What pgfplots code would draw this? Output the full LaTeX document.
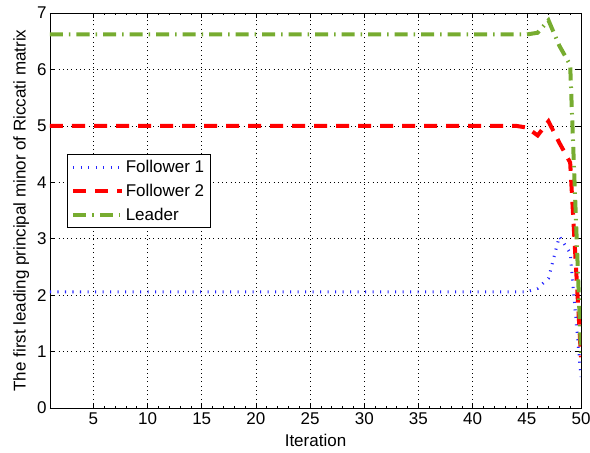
\documentclass[border=0pt]{standalone}
\usepackage{pgfplots}
\pgfplotsset{compat=1.18}
\usepackage{pgfplotstable}
\usepackage{fontspec}
\setmainfont{Liberation Sans}

\definecolor{mlgreen}{rgb}{0.466,0.674,0.188}

% iteration, follower 1, follower 2, leader
\pgfplotstableread{
x  fa    fb    ld
1  2.06  5.00  6.62
2  2.06  5.00  6.62
3  2.06  5.00  6.62
4  2.06  5.00  6.62
5  2.06  5.00  6.62
6  2.06  5.00  6.62
7  2.06  5.00  6.62
8  2.06  5.00  6.62
9  2.06  5.00  6.62
10 2.06  5.00  6.62
11 2.06  5.00  6.62
12 2.06  5.00  6.62
13 2.06  5.00  6.62
14 2.06  5.00  6.62
15 2.06  5.00  6.62
16 2.06  5.00  6.62
17 2.06  5.00  6.62
18 2.06  5.00  6.62
19 2.06  5.00  6.62
20 2.06  5.00  6.62
21 2.06  5.00  6.62
22 2.06  5.00  6.62
23 2.06  5.00  6.62
24 2.06  5.00  6.62
25 2.06  5.00  6.62
26 2.06  5.00  6.62
27 2.06  5.00  6.62
28 2.06  5.00  6.62
29 2.06  5.00  6.62
30 2.06  5.00  6.62
31 2.06  5.00  6.62
32 2.06  5.00  6.62
33 2.06  5.00  6.62
34 2.06  5.00  6.62
35 2.06  5.00  6.62
36 2.06  5.00  6.62
37 2.06  5.00  6.62
38 2.06  5.00  6.62
39 2.06  5.00  6.62
40 2.06  5.00  6.62
41 2.06  5.00  6.62
42 2.06  5.00  6.62
43 2.06  5.00  6.62
44 2.06  5.00  6.62
45 2.06  4.97  6.62
46 2.12  4.83  6.65
47 2.30  5.08  6.87
48 3.04  4.70  6.42
49 2.75  4.35  6.08
50 0.55  0.90  0.95
}\ricdata

\begin{document}
\begin{tikzpicture}
\begin{axis}[
  scale only axis,
  width=531pt, height=395pt,
  xmin=1, xmax=50,
  ymin=0, ymax=7,
  xtick={5,10,...,50},
  ytick={0,1,...,7},
  minor x tick num=4,
  tick align=inside,
  major tick length=5pt,
  minor tick length=2.5pt,
  grid=major,
  major grid style={black, line width=0.5pt, dash pattern=on 0.8pt off 3.5pt},
  axis line style={line width=0.8pt},
  every tick/.style={black, line width=0.6pt},
  /pgf/number format/assume math mode=true,
  tick label style={font=\fontsize{17}{20}\selectfont},
  xticklabel style={yshift=-1pt},
  label style={font=\fontsize{17}{20}\selectfont},
  xlabel={Iteration},
  ylabel={The first leading principal minor of Riccati matrix},
  xlabel style={yshift=-3pt},
  ylabel style={yshift=1pt},
  legend style={at={(0.032,0.643)}, anchor=north west,
    font=\fontsize{17}{20}\selectfont, draw=black, line width=0.8pt,
    inner sep=4pt, row sep=6pt},
  legend cell align=left,
  legend image code/.code={
    \draw[#1]
      plot coordinates {(0cm,0cm) (0.85cm,0cm) (1.7cm,0cm)};},
]
\addplot[blue!85, line width=3pt, dash pattern=on 1.1pt off 6.4pt]
  table[x=x, y=fa] {\ricdata};
\addlegendentry{Follower 1}
\addplot[red, line width=4pt, dash pattern=on 13pt off 9pt]
  table[x=x, y=fb] {\ricdata};
\addlegendentry{Follower 2}
\addplot[mlgreen, line width=4pt, dash pattern=on 13pt off 6pt on 1.5pt off 6pt]
  table[x=x, y=ld] {\ricdata};
\addlegendentry{Leader}
\coordinate (bl) at (rel axis cs:0,0);
\coordinate (tr) at (rel axis cs:1,1);
\end{axis}
\pgfresetboundingbox
\path ([xshift=-50pt,yshift=-44pt]bl) rectangle ([xshift=9pt,yshift=13pt]tr);
\end{tikzpicture}
\end{document}
